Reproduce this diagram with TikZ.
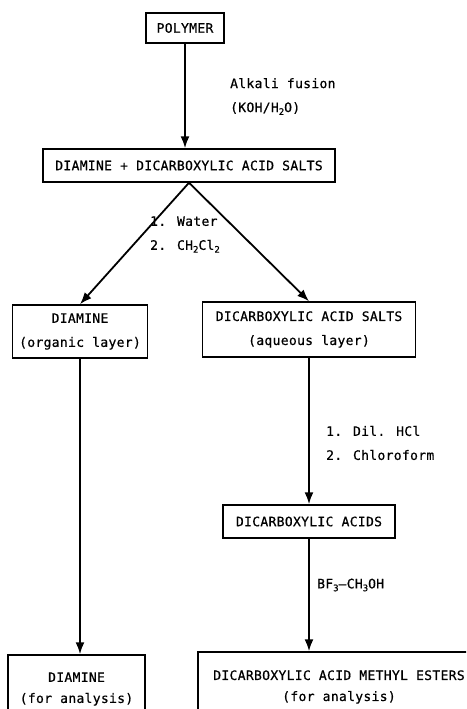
\documentclass[tikz,border=0pt]{standalone}
\usepackage{fontspec}
\newfontfamily\monofnt[LetterSpace=2.5,FakeBold=0.6]{DejaVu Sans Mono}
\usetikzlibrary{arrows.meta}
\newcommand{\mysub}[1]{\raisebox{-0.4ex}{\fontsize{9}{9}\selectfont #1}}
\tikzset{
  txt/.style={font={\monofnt\fontsize{13}{24}\selectfont}, inner sep=0pt},
  boxnode/.style={txt, draw, line width=1.5pt, align=center},
  lowbox/.style={boxnode, font={\monofnt\fontsize{13}{21}\selectfont}},
  lbl/.style={txt, anchor=west, align=left},
  arr/.style={line width=1.8pt, -{Latex[length=12pt,width=9pt]}}
}
\begin{document}
\begin{tikzpicture}[x=1pt,y=-1pt]
\useasboundingbox (0,0) rectangle (466,709);
\clip (0,0) rectangle (466,709);
\fill[white] (0,0) rectangle (466,709);

\node[boxnode, minimum width=78pt, minimum height=30pt] (poly) at (185,28) {POLYMER};
\node[boxnode, minimum width=292pt, minimum height=33pt] (mix) at (189,165.5) {DIAMINE + DICARBOXYLIC ACID SALTS};
\node[boxnode, minimum width=135pt, minimum height=53pt] (dia1) at (80,331.5) {DIAMINE\\(organic layer)};
\node[boxnode, minimum width=213pt, minimum height=55pt] (salts) at (309,329.5) {DICARBOXYLIC ACID SALTS\\(aqueous layer)};
\node[boxnode, minimum width=172pt, minimum height=33pt] (acids) at (309,521.5) {DICARBOXYLIC ACIDS};
\node[lowbox, minimum width=137pt, minimum height=68pt] (dia2) at (76.5,689) {DIAMINE\\(for analysis)};
\node[lowbox, minimum width=282pt, minimum height=70pt] (esters) at (339,687) {DICARBOXYLIC ACID METHYL ESTERS\\(for analysis)};

\node[lbl] (l1) at (230,96.5) {Alkali fusion\\(KOH/H\mysub{2}O)};
\node[lbl] (l2) at (150,234.5) {1. Water\\2. CH\mysub{2}Cl\mysub{2}};
\node[lbl] (l3) at (326,443) {1. Dil. HCl\\2. Chloroform};
\node[lbl] (l4) at (317,585) {BF\mysub{3}–CH\mysub{3}OH};

\draw[arr] (poly.south) -- (poly.south |- mix.north);
\draw[arr] (mix.south) -- (dia1.north);
\draw[arr] (mix.south) -- (salts.north);
\draw[arr] (salts.south) -- (salts.south |- acids.north);
\draw[arr] (acids.south) -- (acids.south |- esters.north);
\draw[arr] (dia1.south) -- (dia1.south |- dia2.north);
\end{tikzpicture}
\end{document}
